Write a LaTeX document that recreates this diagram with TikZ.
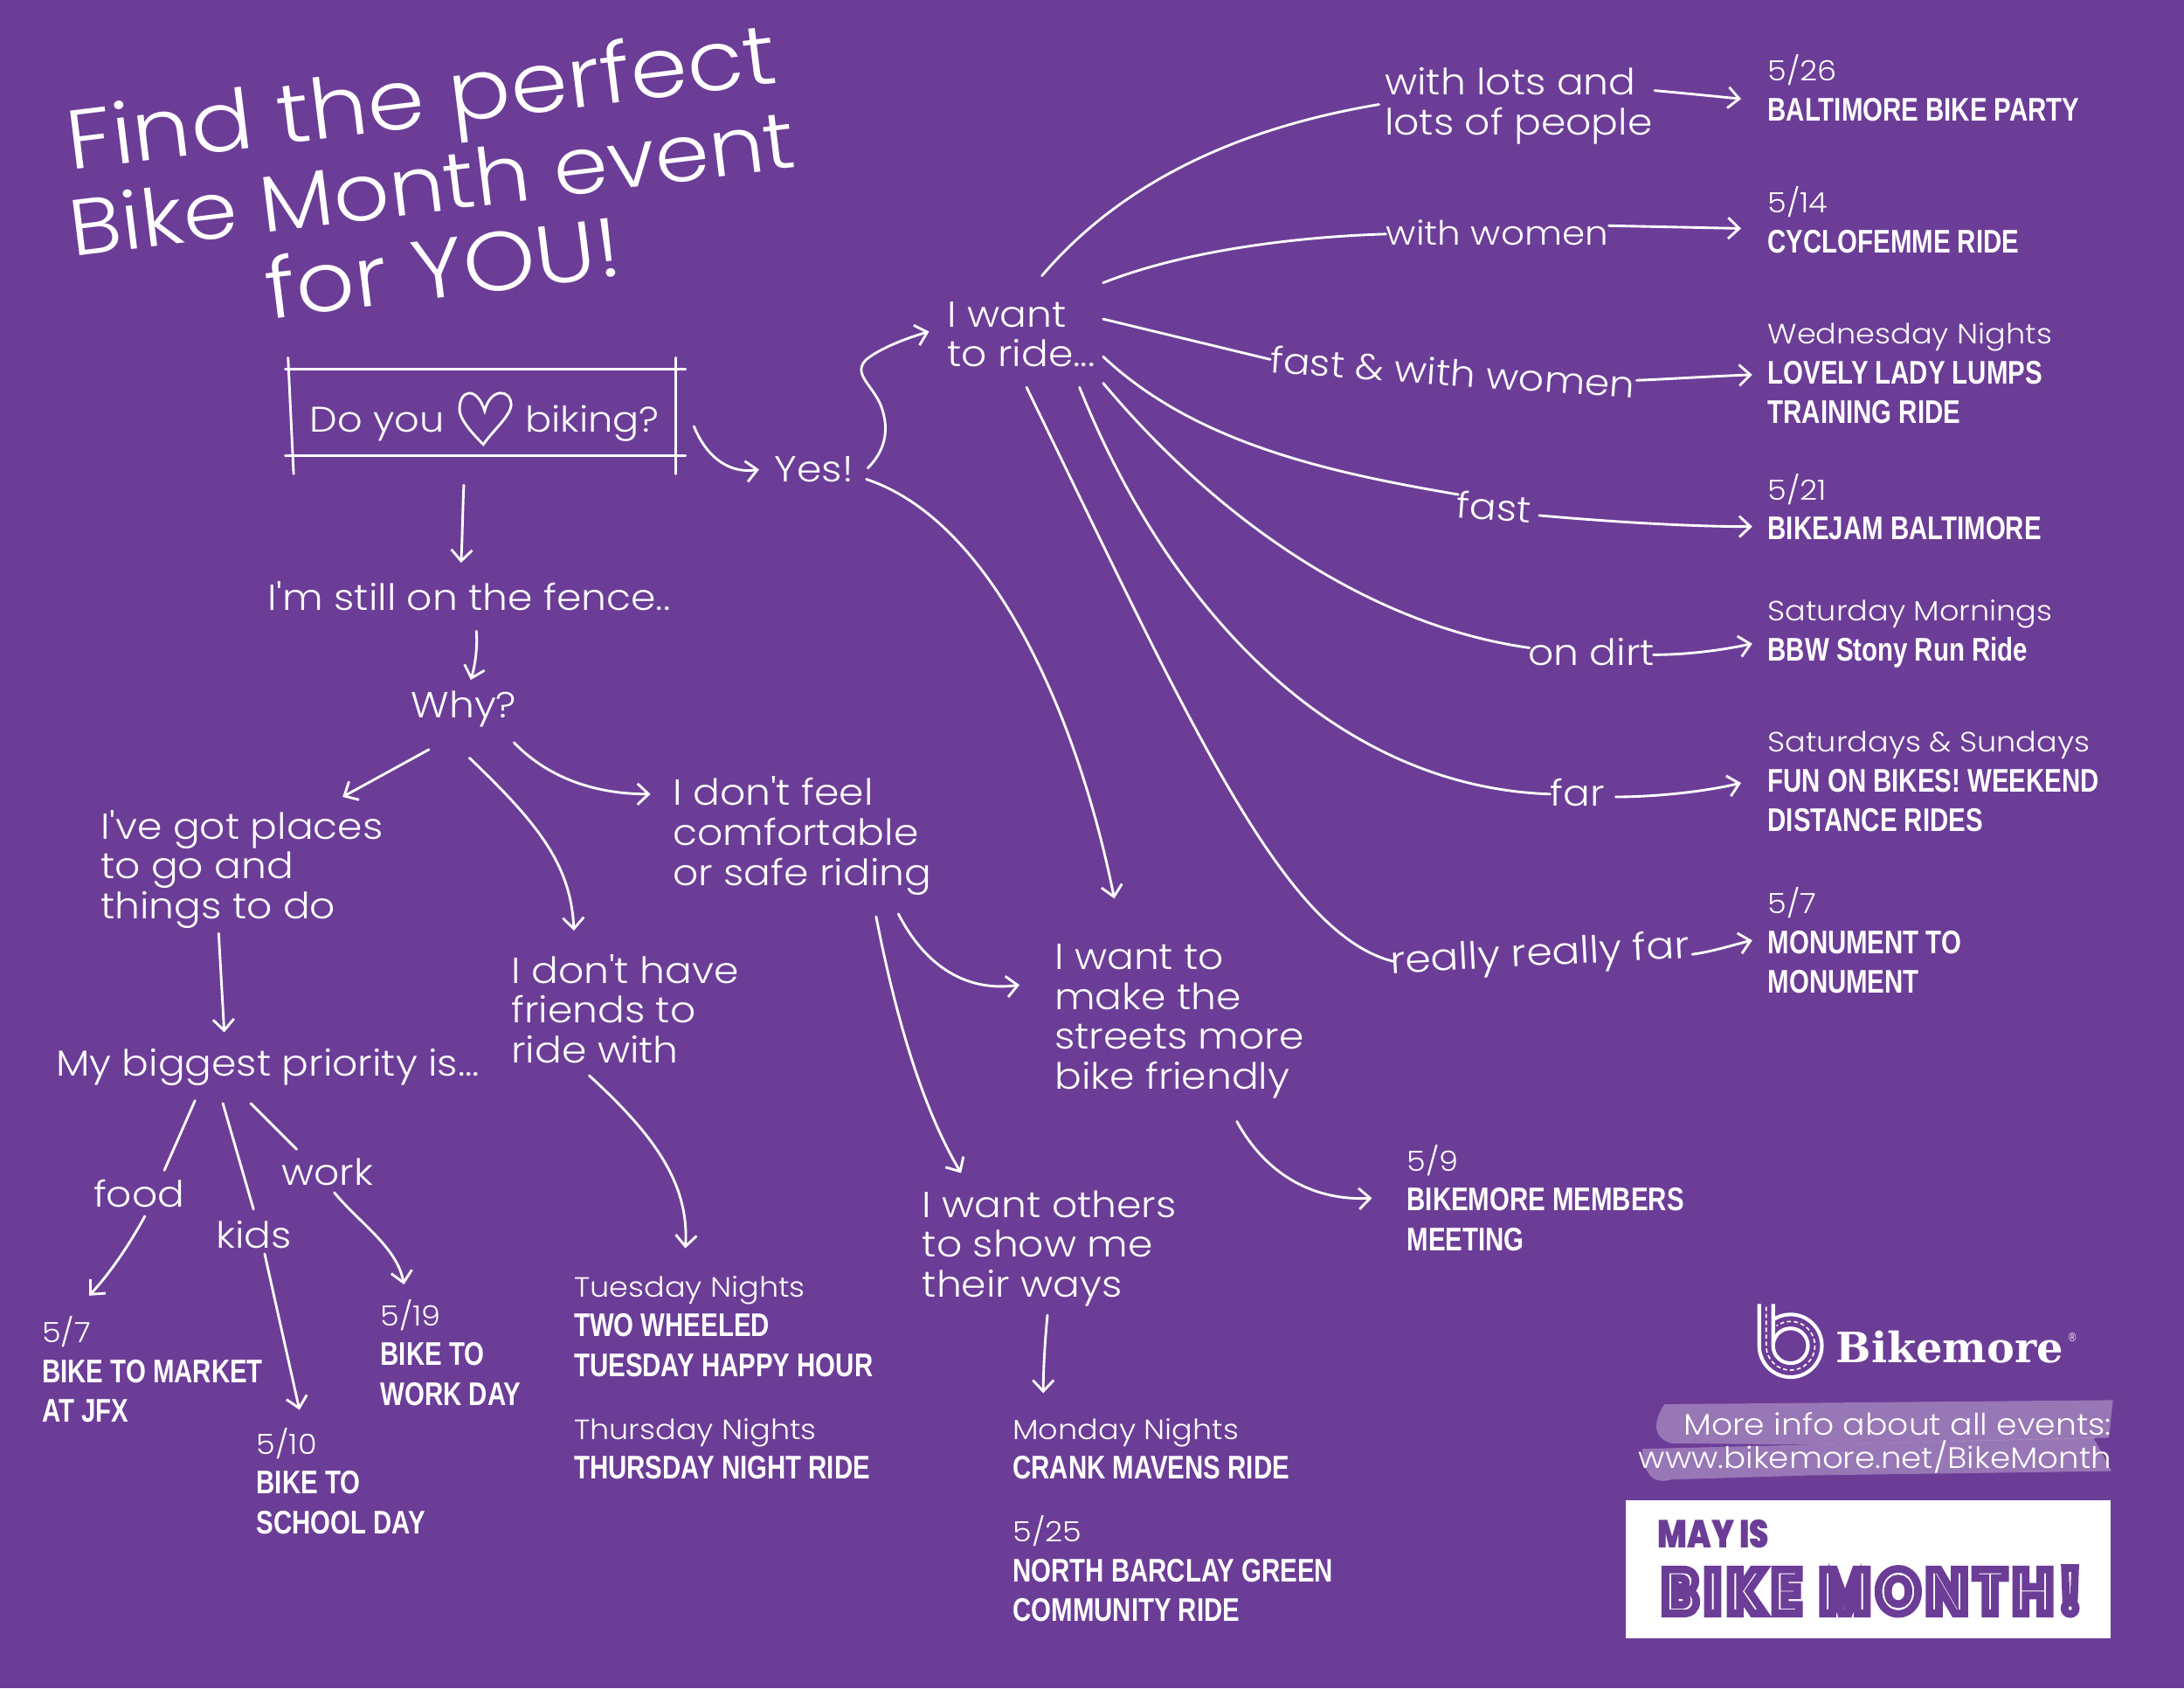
\documentclass[tikz,border=0pt]{standalone}
\usepackage{fontspec}
\usetikzlibrary{arrows.meta}
\newfontfamily\handf{Poppins Light}[FakeStretch=1.1]
\newfontfamily\evf{Liberation Sans}[FakeStretch=0.785,BoldFont={Liberation Sans Bold}]
\newfontfamily\logof{DejaVu Serif}
\newfontfamily\monthf{Poppins}[FakeStretch=0.88,LetterSpace=10]
\newfontfamily\mayf{Poppins Black}[FakeStretch=0.8]
\definecolor{bg}{HTML}{6C3D97}
\tikzset{
  x=1pt,y=-1pt,
  hand/.style={text=white,anchor=west,inner sep=0pt,align=left,font=\handf\fontsize{26}{28.6}\selectfont},
  title/.style={text=white,inner sep=0pt,font=\handf\fontsize{60}{64}\selectfont},
  ev/.style={text=white,anchor=west,inner sep=0pt,align=left,font=\evf\bfseries\fontsize{23.5}{28.6}\selectfont},
  link/.style={draw=white,line width=1.8pt,line cap=round,-{Straight Barb[length=8pt,width=15pt,line width=1.8pt]}},
  plain/.style={draw=white,line width=1.8pt,line cap=round},
}
\newcommand{\dt}[1]{{\handf\mdseries\fontsize{20}{28.6}\selectfont #1}}
\begin{document}
\begin{tikzpicture}
\useasboundingbox (0,0) rectangle (1568,1212);
\fill[bg] (0,0) rectangle (1568,1212);

% title
\node[title,rotate=7] (t1) at (303,76) {Find the perfect};
\node[title,rotate=7,font=\handf\fontsize{57}{64}\selectfont] (t2) at (310,131) {Bike Month event};
\node[title,rotate=7] (t3) at (318,191) {for YOU!};

% question box
\node[text=white,inner sep=0pt,minimum width=280pt,minimum height=62pt,font=\handf\fontsize{25.5}{28}\selectfont] (box) at (347,296) {\raisebox{-14pt}[0pt][0pt]{\hspace*{2pt}Do you\hspace{58pt}biking?}};
\draw[plain] ([xshift=-2pt]box.north west) -- ([xshift=5pt]box.north east);
\draw[plain] ([xshift=-2pt]box.south west) -- ([xshift=5pt]box.south east);
\draw[plain] ([yshift=8pt]box.north west) -- ([shift={(4,13)}]box.south west);
\draw[plain] ([shift={(-2,-8)}]box.north east) -- ([shift={(-2,13)}]box.south east);
\draw[plain] (348,295) .. controls (342,276) and (329,280) .. (330,295) .. controls (331,303) and (342,314) .. (347,319) .. controls (354,309) and (366,299) .. (367,291) .. controls (367,279) and (352,278) .. (348,295) -- cycle;

% questions and answers
\node[hand] (yes) at (556,337) {Yes!};
\node[hand] (fence) at (192,428) {I'm still on the fence..};
\node[hand] (why) at (295,509) {Why?};
\node[hand] (places) at (72,624) {I've got places\\to go and\\things to do};
\node[hand] (priority) at (40,766) {My biggest priority is...};
\node[hand] (friends) at (367,724) {I don't have\\friends to\\ride with};
\node[hand] (comf) at (483,600) {I don't feel\\comfortable\\or safe riding};
\node[hand] (want) at (680,240) {I want\\to ride...};
\node[hand] (make) at (757,733) {I want to\\make the\\streets more\\bike friendly};
\node[hand] (others) at (662,896) {I want others\\to show me\\their ways};
\node[hand] (food) at (67,857) {food};
\node[hand] (kids) at (155,886) {kids};
\node[hand] (work) at (202,841) {work};
\node[hand] (lots) at (994,76) {with lots and\\lots of people};
\node[hand,font=\handf\fontsize{24}{28.6}\selectfont] (women) at (995,167) {with women};
\node[hand,rotate=-4] (fastw) at (912,258) {fast \& with women};
\node[hand,rotate=-4] (fast) at (1046,362) {fast};
\node[hand] (dirt) at (1097,468) {on dirt};
\node[hand] (far) at (1113,569) {far};
\node[hand,rotate=3,font=\handf\fontsize{27}{28.6}\selectfont] (really) at (998,692) {really really far};

% events
\node[ev] (balt) at (1269,63) {\dt{5/26}\\BALTIMORE BIKE PARTY};
\node[ev] (cyc) at (1269,158) {\dt{5/14}\\CYCLOFEMME RIDE};
\node[ev] (lovely) at (1269,268) {\dt{Wednesday Nights}\\LOVELY LADY LUMPS\\TRAINING RIDE};
\node[ev] (jam) at (1269,364) {\dt{5/21}\\BIKEJAM BALTIMORE};
\node[ev] (bbw) at (1269,455) {\dt{Saturday Mornings}\\BBW Stony Run Ride};
\node[ev] (fob) at (1269,561) {\dt{Saturdays \& Sundays}\\FUN ON BIKES! WEEKEND\\DISTANCE RIDES};
\node[ev] (mon) at (1269,675) {\dt{5/7}\\MONUMENT TO\\MONUMENT};
\node[ev] (memb) at (1010,860) {\dt{5/9}\\BIKEMORE MEMBERS\\MEETING};
\node[ev] (monday) at (727,1040) {\dt{Monday Nights}\\CRANK MAVENS RIDE};
\node[ev] (barc) at (727,1126) {\dt{5/25}\\NORTH BARCLAY GREEN\\COMMUNITY RIDE};
\node[ev] (tue) at (412,952) {\dt{Tuesday Nights}\\TWO WHEELED\\TUESDAY HAPPY HOUR};
\node[ev] (thu) at (412,1040) {\dt{Thursday Nights}\\THURSDAY NIGHT RIDE};
\node[ev] (jfx) at (30,983) {\dt{5/7}\\BIKE TO MARKET\\AT JFX};
\node[ev] (school) at (184,1063) {\dt{5/10}\\BIKE TO\\SCHOOL DAY};
\node[ev] (wday) at (273,971) {\dt{5/19}\\BIKE TO\\WORK DAY};

% connectors
\draw[link] ([shift={(11,10)}]box.east) .. controls (508,330) and (525,340) .. ([shift={(-11,0)}]yes.west);
\draw[link] ([shift={(-14,21)}]box.south) .. controls (332,370) and (332,385) .. ([shift={(139,-24)}]fence.west);
\draw[link] ([shift={(67,-1)}]yes.west) .. controls (634,325) and (640,310) .. (632,290) .. controls (625,275) and (612,268) .. (622,258) .. controls (632,250) and (650,243) .. ([shift={(-13,-2)}]want.west);
\draw[link] ([shift={(66,7)}]yes.west) .. controls (715,375) and (775,520) .. ([shift={(43,-88)}]make.west);
\draw[link] ([shift={(150,25)}]fence.west) .. controls (343,465) and (341,478) .. ([shift={(43,-21)}]why.west);
\draw[link] ([shift={(13,29)}]why.west) -- ([shift={(174,-52)}]places.west);
\draw[link] ([shift={(42,35)}]why.west) .. controls (385,590) and (410,620) .. ([shift={(45,-56)}]friends.west);
\draw[link] ([shift={(74,24)}]why.west) .. controls (395,560) and (430,570) .. ([shift={(-16,-30)}]comf.west);
\draw[link] ([shift={(85,46)}]places.west) -- ([shift={(121,-25)}]priority.west);
\draw[plain] ([shift={(100,24)}]priority.west) -- ([shift={(51,-17)}]food.west);
\draw[link] ([shift={(37,16)}]food.west) .. controls (92,895) and (78,915) .. ([shift={(34,-53)}]jfx.west);
\draw[plain] ([shift={(120,26)}]priority.west) -- ([shift={(27,-18)}]kids.west);
\draw[link] ([shift={(35,14)}]kids.west) -- ([shift={(31,-51)}]school.west);
\draw[plain] ([shift={(140,26)}]priority.west) -- ([shift={(11,-16)}]work.west);
\draw[link] ([shift={(38,15)}]work.west) .. controls (258,878) and (285,895) .. ([shift={(17,-49)}]wday.west);
\draw[link] ([shift={(56,48)}]friends.west) .. controls (470,815) and (495,850) .. ([shift={(80,-56)}]tue.west);
\draw[link] ([shift={(162,56)}]comf.west) .. controls (665,695) and (695,712) .. ([shift={(-25,-26)}]make.west);
\draw[link] ([shift={(146,58)}]comf.west) .. controls (645,740) and (665,800) .. ([shift={(28,-54)}]others.west);
\draw[link] ([shift={(131,72)}]make.west) .. controls (910,845) and (945,862) .. ([shift={(-25,0)}]memb.west);
\draw[link] ([shift={(90,48)}]others.west) .. controls (750,965) and (749,985) .. ([shift={(22,-40)}]monday.west);

\draw[plain] ([shift={(68,-42)}]want.west) .. controls (810,125) and (900,90) .. ([shift={(-4,-1)}]lots.west);
\draw[link] ([shift={(194,-11)}]lots.west) .. controls (1210,67) and (1230,69) .. ([shift={(-19,8)}]balt.west);
\draw[plain] ([shift={(112,-37)}]want.west) .. controls (850,180) and (930,170) .. ([shift={(0,1)}]women.west);
\draw[link] ([shift={(160,-5)}]women.west) -- ([shift={(-19,6)}]cyc.west);
\draw[plain] ([shift={(112,-11)}]want.west) -- (fastw.west);
\draw[link] ([shift={(263,15)}]fastw.west) .. controls (1200,272) and (1230,270) .. ([shift={(-11,1)}]lovely.west);
\draw[plain] ([shift={(112,16)}]want.west) .. controls (860,320) and (960,340) .. ([shift={(1,-7)}]fast.west);
\draw[link] ([shift={(59,8)}]fast.west) .. controls (1150,374) and (1210,378) .. ([shift={(-11,14)}]jam.west);
\draw[plain] ([shift={(112,35)}]want.west) .. controls (880,380) and (990,450) .. ([shift={(1,-3)}]dirt.west);
\draw[link] ([shift={(90,2)}]dirt.west) .. controls (1210,470) and (1235,467) .. ([shift={(-11,7)}]bbw.west);
\draw[plain] ([shift={(95,38)}]want.west) .. controls (840,440) and (960,565) .. ([shift={(0,1)}]far.west);
\draw[link] ([shift={(47,3)}]far.west) .. controls (1190,572) and (1225,568) .. ([shift={(-19,1)}]fob.west);
\draw[plain] ([shift={(57,38)}]want.west) .. controls (850,510) and (920,670) .. ([shift={(2,-2)}]really.west);
\draw[link] ([shift={(217,-7)}]really.west) .. controls (1230,683) and (1245,678) .. ([shift={(-11,0)}]mon.west);

% logo
\draw[white,line width=2.6pt] (1263,936) -- (1263,966) arc[start angle=180,end angle=-125,radius=22.5];
\draw[white,line width=2.6pt] (1273,936) -- (1273,966) arc[start angle=180,end angle=-180,radius=12.5];
\draw[white,line width=1pt,dash pattern=on 3pt off 2pt] (1268,938) -- (1268,966) arc[start angle=180,end angle=-125,radius=17.5];

\node[text=white,anchor=west,inner sep=0pt,font=\logof\bfseries\fontsize{30}{32}\selectfont] (bm) at (1318,967) {Bikemore};
\node[text=white,anchor=west,inner sep=0pt,font=\evf\fontsize{9}{10}\selectfont] (reg) at (1485,960) {®};

% highlights
\fill[white,opacity=.3] (1195,1008) -- (1517,1005) -- (1514,1032) -- (1300,1037) -- (1200,1036) .. controls (1186,1032) and (1187,1020) .. (1195,1008) -- cycle;
\fill[white,opacity=.3] (1179,1040) -- (1300,1037) -- (1503,1032) -- (1516,1056) -- (1300,1059) -- (1200,1062) .. controls (1190,1065) and (1180,1062) .. (1179,1040) -- cycle;
\node[text=white,anchor=east,inner sep=0pt,font=\handf\fontsize{21.5}{26}\selectfont] (more) at (1516,1022) {More info about all events:};
\node[text=white,anchor=east,inner sep=0pt,font=\handf\fontsize{21.2}{26}\selectfont] (url) at (1516,1046) {www.bikemore.net/BikeMonth};

% banner
\fill[white] (1167,1077) rectangle (1515,1176);
\node[text=bg,anchor=west,inner sep=0pt,font=\mayf\fontsize{28}{30}\selectfont] (may) at (1190,1101) {MAY IS};
\node[text=bg,anchor=west,inner sep=0pt,font=\monthf\bfseries\fontsize{45}{54}\selectfont] (month) at (1193,1142) {\special{pdf:literal direct 2 Tr 5.5 w 0.424 0.239 0.592 RG 1 1 1 rg}BIKE MONTH!\special{pdf:literal direct 0 Tr}};
\end{tikzpicture}
\end{document}
